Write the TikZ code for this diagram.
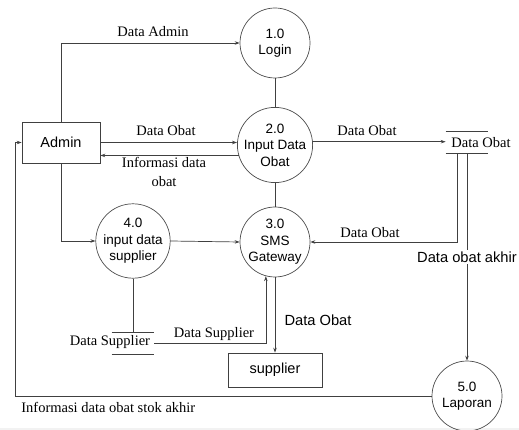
\documentclass[tikz,border=0pt]{standalone}
\usepackage{fontspec}
\setmainfont{Liberation Serif}
\setsansfont{Liberation Sans}
\usetikzlibrary{arrows.meta,calc}
\begin{document}
\begin{tikzpicture}[x=1pt,y=-1pt,
  line width=0.7pt, draw=black!75,
  proc/.style={circle, draw=black!70, inner sep=0pt, align=center, font=\sffamily\fontsize{13.5}{16.5}\selectfont},
  ent/.style={rectangle, draw=black!75, inner sep=0pt, font=\sffamily\fontsize{14.5}{17}\selectfont},
  store/.style={rectangle, inner sep=0pt, minimum width=42pt, minimum height=21.5pt},
  lbl/.style={font=\fontsize{14.5}{19}\selectfont, inner sep=1pt, align=center},
  slbl/.style={font=\sffamily\fontsize{14.7}{17}\selectfont, inner sep=1pt},
  arr/.style={draw=black!75, -{Stealth[length=5pt,width=3.5pt]}},
  ln/.style={draw=black!75}]
\useasboundingbox (0,0) rectangle (519,430);
\fill[black!5] (0,428) rectangle (519,432);

% processes
\node[proc, minimum size=70pt] (p1) at (275,43) {1.0\\Login};
\node[proc, minimum size=72pt] (p2) at (275,145) {2.0\\Input Data\\Obat};
\node[proc, minimum size=70pt] (p3) at (275,242) {3.0\\SMS\\Gateway};
\node[proc, minimum size=68pt] (p4) at (133,241) {4.0\\input data\\supplier};
\node[proc, minimum size=70pt] (p5) at (467,396) {5.0\\Laporan};

% entities
\node[ent, minimum width=78pt, minimum height=41pt] (admin) at (61,142.5) {Admin};
\node[ent, minimum width=94pt, minimum height=34pt] (supplier) at (275,370) {supplier};

% stores
\node[store] (s1) at (467,142.5) {};
\draw[ln] (s1.north west) -- (s1.north east);
\draw[ln] (s1.south west) -- (s1.south east);
\node[lbl] (s1t) at (481,143) {Data Obat};

\node[store] (s2) at (133,343) {};
\draw[ln] (s2.north west) -- (s2.north east);
\draw[ln] (s2.south west) -- (s2.south east);
\node[lbl, fill=white, inner sep=0.5pt] (s2t) at (110,342) {Data Supplier};

% connectors
\draw[arr] (admin.north) |- (p1.west);
\node[lbl] (l1) at (153,32) {Data Admin};
\draw[arr] (admin.east) -- (admin.east -| p2.west);
\node[lbl] (l2) at (166,131) {Data Obat};
\draw[arr] (p2.196) -- (p2.196 -| admin.east);
\node[lbl] (l3) at (164,171.5) {Informasi data\\obat};
\draw[arr] (p2.5) -- (p2.5 -| s1.west);
\node[lbl] (l4) at (367,131) {Data Obat};
\draw[ln] (p1.south) -- (p2.north);
\draw[ln] (p2.south) -- (p3.north);
\draw[arr] (admin.south) |- (p4.west);
\draw[arr] (p4.east) -- (p3.west);
\draw[arr] ([xshift=-10pt]s1.south) |- (p3.east);
\node[lbl] (l5) at (370,233) {Data Obat};
\draw[arr] (s1.south) -- (p5.north);
\node[slbl, fill=white, inner sep=2pt] (l6) at (467,257) {Data obat akhir};
\coordinate (cl) at (15,0);
\draw[arr] (p5.west) -- (p5.west -| cl) |- (admin.west);
\node[lbl, anchor=west] (l7) at (20,407) {Informasi data obat stok akhir};
\draw[ln] (p4.south) -- (s2.north);
\draw[arr] (s2.east) -| (p3.255);
\node[lbl] (l8) at (214,334) {Data Supplier};
\draw[arr] (p3.south) -- (supplier.north);
\node[slbl] (l9) at (318,320) {Data Obat};
\end{tikzpicture}
\end{document}
